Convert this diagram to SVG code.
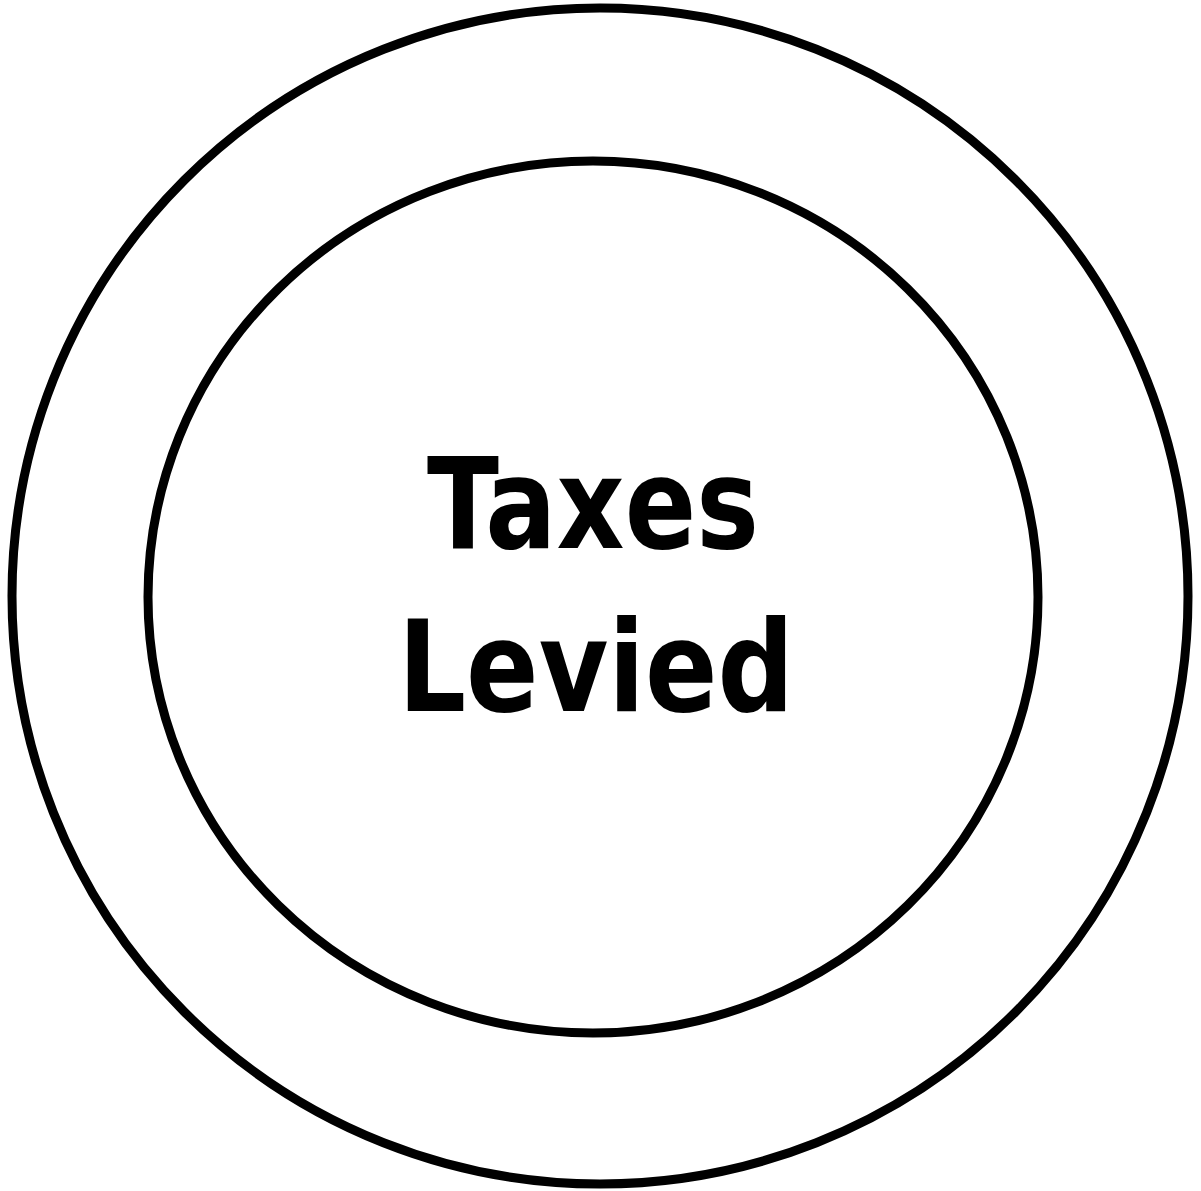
<svg xmlns="http://www.w3.org/2000/svg" width="1201" height="1191" viewBox="0 0 1201 1191">
<style>
.ring{fill:none;stroke:#000;stroke-width:9}
.lbl{font-family:"DejaVu Sans","Liberation Sans",sans-serif;font-weight:bold;font-size:126px;fill:#000;text-anchor:middle}
</style>
<rect width="1201" height="1191" fill="#fff"/>
<g id="outer"><ellipse class="ring" cx="600" cy="596" rx="588" ry="588"/></g>
<g id="inner"><ellipse class="ring" cx="593" cy="597" rx="445" ry="436"/>
<text class="lbl" x="593" y="548" textLength="332" lengthAdjust="spacingAndGlyphs">Taxes</text>
<text class="lbl" x="596" y="711" textLength="396" lengthAdjust="spacingAndGlyphs">Levied</text>
</g>
</svg>
